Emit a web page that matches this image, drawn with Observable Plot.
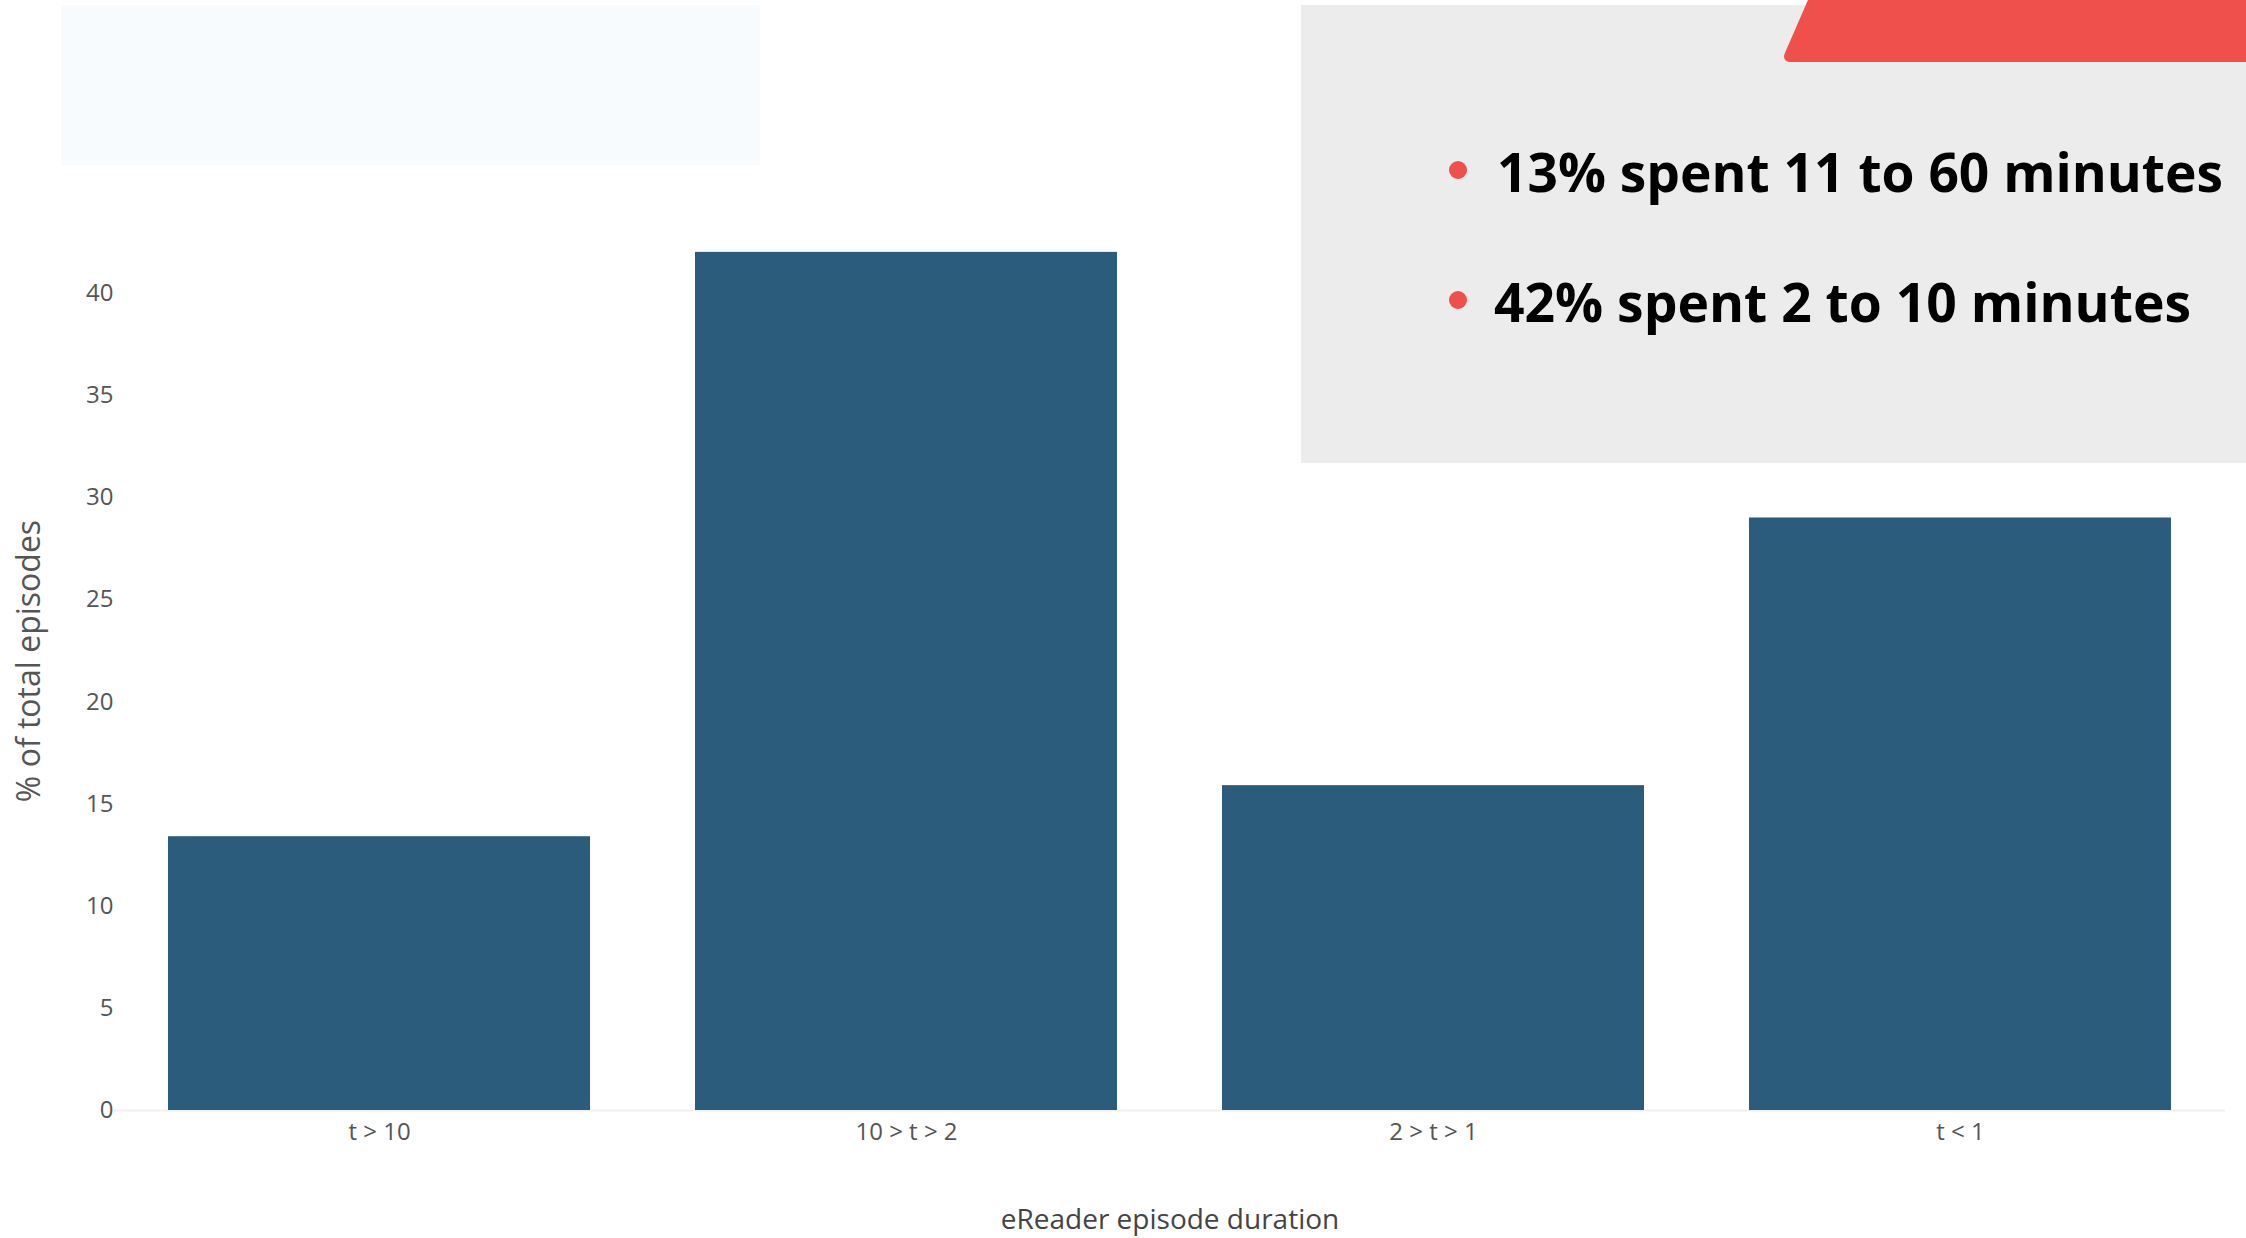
<!DOCTYPE html>
<html><head><meta charset="utf-8">
<script src="https://cdn.jsdelivr.net/npm/d3@7"></script>
<script src="https://cdn.jsdelivr.net/npm/@observablehq/plot@0.6"></script>
<style>
html,body{margin:0;padding:0;background:#fff;width:2246px;height:1238px;overflow:hidden;}
#wrap{position:relative;width:2246px;height:1238px;}
#faint{position:absolute;left:61px;top:5px;width:699px;height:160px;background:#f8fbfd;}
#chart{position:absolute;left:0;top:0;}
#callout{position:absolute;left:1301px;top:5px;}
#tab{position:absolute;left:1781px;top:0;width:520px;height:62px;background:#f0504b;transform-origin:0 100%;transform:skewX(-23.5deg);border-bottom-left-radius:9px;}
</style></head><body>
<div id="wrap">
  <div id="faint"></div>
  <div id="chart"></div>
  <div id="callout"></div>
  <div id="tab"></div>
</div>
<script>
const categories = ["t > 10", "10 > t > 2", "2 > t > 1", "t < 1"];
const values = [13.4, 42.0, 15.9, 29.0];
const yTicks = [0, 5, 10, 15, 20, 25, 30, 35, 40];
const xTitle = "eReader episode duration";
const yTitle = "% of total episodes";
const notes = ["13% spent 11 to 60 minutes", "42% spent 2 to 10 minutes"];

const data = categories.map((c, i) => ({category: c, value: values[i]}));

const chart = Plot.plot({
  width: 2246, height: 1238,
  marginLeft: 114, marginRight: 21, marginTop: 211, marginBottom: 128,
  style: {fontFamily: "'Open Sans', sans-serif", fontSize: "24px", color: "#555", background: "transparent", overflow: "visible"},
  x: {domain: categories, paddingInner: 0.2, paddingOuter: 0.1, label: null, tickSize: 0, tickPadding: 12},
  y: {domain: [0, 44], ticks: yTicks, label: null, tickSize: 0, tickPadding: 1},
  marks: [
    Plot.ruleY([0], {stroke: "#efefef", strokeWidth: 2}),
    Plot.barY(data, {x: "category", y: "value", fill: "#2c5c7c"}),
    Plot.text([yTitle], {text: d => d, frameAnchor: "left", textAnchor: "middle", dx: -85, rotate: -90, fontSize: 32, fill: "#555", ariaLabel: "y-title"}),
    Plot.text([xTitle], {text: d => d, frameAnchor: "bottom", dy: 118, fontSize: 28, fill: "#444", ariaLabel: "x-title"})
  ]
});
document.getElementById("chart").appendChild(chart);

// callout box
const cw = 945, ch = 458;
const svg = d3.select("#callout").append("svg").attr("width", cw).attr("height", ch);
svg.append("rect").attr("width", cw).attr("height", ch).attr("fill", "#ececec");
const lineX = [196, 193];
const lineBase = [187, 317];
const lineLen = [726, 697];
notes.forEach((t, i) => {
  svg.append("circle").attr("cx", 157).attr("cy", lineBase[i] - 22).attr("r", 9).attr("fill", "#f0504b");
  svg.append("text").attr("x", lineX[i]).attr("y", lineBase[i])
    .attr("font-family", "'Open Sans', sans-serif").attr("font-weight", 700).attr("font-size", 54)
    .attr("fill", "#000").attr("textLength", lineLen[i]).attr("lengthAdjust", "spacingAndGlyphs").text(t);
});
</script>
</body></html>
